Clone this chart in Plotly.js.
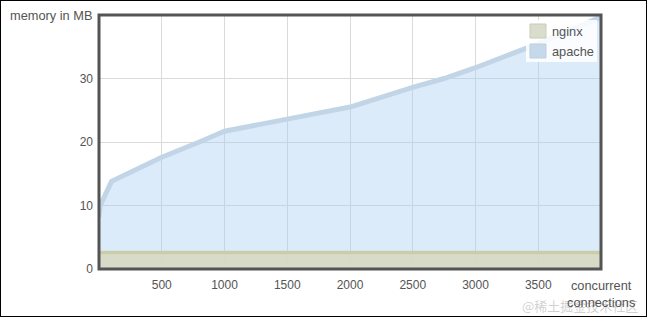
<!DOCTYPE html>
<html>
<head>
<meta charset="utf-8">
<script src="https://cdn.plot.ly/plotly-3.0.1.min.js"></script>
<style>
html,body{margin:0;padding:0;background:#fff;}
#chart{width:647px;height:317px;}
#frame{position:absolute;left:0;top:0;width:647px;height:317px;box-sizing:border-box;border:1px solid #000;pointer-events:none;}
</style>
</head>
<body>
<div id="chart"></div>
<div id="frame"></div>
<script>
// Data
const connections = [0, 10, 100, 500, 800, 1000, 1500, 2000, 2500, 2750, 3000, 3500, 4000];
const apacheMB   = [8.2, 10, 13.8, 17.6, 20, 21.7, 23.6, 25.5, 28.6, 30.0, 31.7, 35.5, 39.7];
const nginxMB    = [2.6, 2.6, 2.6, 2.6, 2.6, 2.6, 2.6, 2.6, 2.6, 2.6, 2.6, 2.6, 2.6];
const xTicks = [500, 1000, 1500, 2000, 2500, 3000, 3500];
const yTicks = [0, 10, 20, 30];
const seriesNames = ['nginx', 'apache'];

const W = 647, H = 317, L = 99, R = 46, T = 15, B = 48;
const pw = W - L - R, ph = H - T - B;
const px = x => (x - L) / pw;
const py = y => (H - B - y) / ph;

const txt = '#545454';
const font = {family: 'Liberation Sans, Arial, sans-serif', size: 12, color: txt};
const font2 = {family: 'Liberation Sans, Arial, sans-serif', size: 12.8, color: txt};

const traces = [
  {
    x: connections, y: apacheMB, name: seriesNames[1], type: 'scatter', mode: 'lines',
    fill: 'tozeroy', fillcolor: 'rgba(172,207,242,0.42)',
    line: {color: '#c2d5e7', width: 5}, showlegend: false, hoverinfo: 'skip'
  },
  {
    x: connections, y: nginxMB, name: seriesNames[0], type: 'scatter', mode: 'lines',
    fill: 'tozeroy', fillcolor: 'rgba(214,218,196,0.95)',
    line: {color: '#c9cdac', width: 3.5}, showlegend: false, hoverinfo: 'skip'
  }
];

const shapes = [
  // plot frame
  {type: 'rect', xref: 'paper', yref: 'paper', x0: 0, x1: 1, y0: 0, y1: 1,
   line: {color: '#545454', width: 3}, layer: 'above'},
  // legend box
  {type: 'rect', xref: 'paper', yref: 'paper', x0: px(526), x1: px(597), y0: py(62), y1: py(20),
   fillcolor: 'rgba(255,255,255,0.85)', line: {width: 0}, layer: 'above'},
  {type: 'rect', xref: 'paper', yref: 'paper', x0: px(530), x1: px(546), y0: py(38), y1: py(24),
   fillcolor: '#d9ddcb', line: {color: '#c8ccb8', width: 1}, layer: 'above'},
  {type: 'rect', xref: 'paper', yref: 'paper', x0: px(530), x1: px(546), y0: py(58), y1: py(44),
   fillcolor: '#c6d9eb', line: {color: '#bccfe2', width: 1}, layer: 'above'}
];

const annotations = [
  {xref: 'paper', yref: 'paper', x: px(550), y: py(31.5), text: seriesNames[0], showarrow: false,
   xanchor: 'left', yanchor: 'middle', font: font2},
  {xref: 'paper', yref: 'paper', x: px(550), y: py(51.5), text: seriesNames[1], showarrow: false,
   xanchor: 'left', yanchor: 'middle', font: font2},
  {xref: 'paper', yref: 'paper', x: px(94), y: py(16), text: 'memory in MB', showarrow: false,
   xanchor: 'right', yanchor: 'middle', font: font2},
  {xref: 'paper', yref: 'paper', x: px(580), y: py(305), text: '@稀土掘金技术社区', showarrow: false,
   xanchor: 'center', yanchor: 'middle',
   font: {family: 'Noto Sans CJK SC, sans-serif', size: 13, color: 'rgba(150,150,150,0.45)'}},
  {xref: 'paper', yref: 'paper', x: px(601), y: py(276), text: 'concurrent<br>connections', showarrow: false,
   xanchor: 'center', yanchor: 'top', font: font2}
];

const layout = {
  width: W, height: H,
  margin: {l: L, r: R, t: T, b: B, pad: 0},
  paper_bgcolor: '#fff', plot_bgcolor: '#fff',
  showlegend: false,
  xaxis: {range: [0, 4000], tickvals: xTicks, ticktext: xTicks.map(String), ticks: '',
          showgrid: true, gridcolor: '#dadada', gridwidth: 1, zeroline: false, showline: false,
          tickfont: font, ticklabelstandoff: 7, fixedrange: true},
  yaxis: {range: [0, 40], tickvals: yTicks, ticktext: yTicks.map(String), ticks: '',
          showgrid: true, gridcolor: '#dadada', gridwidth: 1, zeroline: false, showline: false,
          tickfont: font, ticklabelstandoff: 5, fixedrange: true},
  shapes: shapes,
  annotations: annotations
};

Plotly.newPlot('chart', traces, layout, {displayModeBar: false, staticPlot: true});
</script>
</body>
</html>
